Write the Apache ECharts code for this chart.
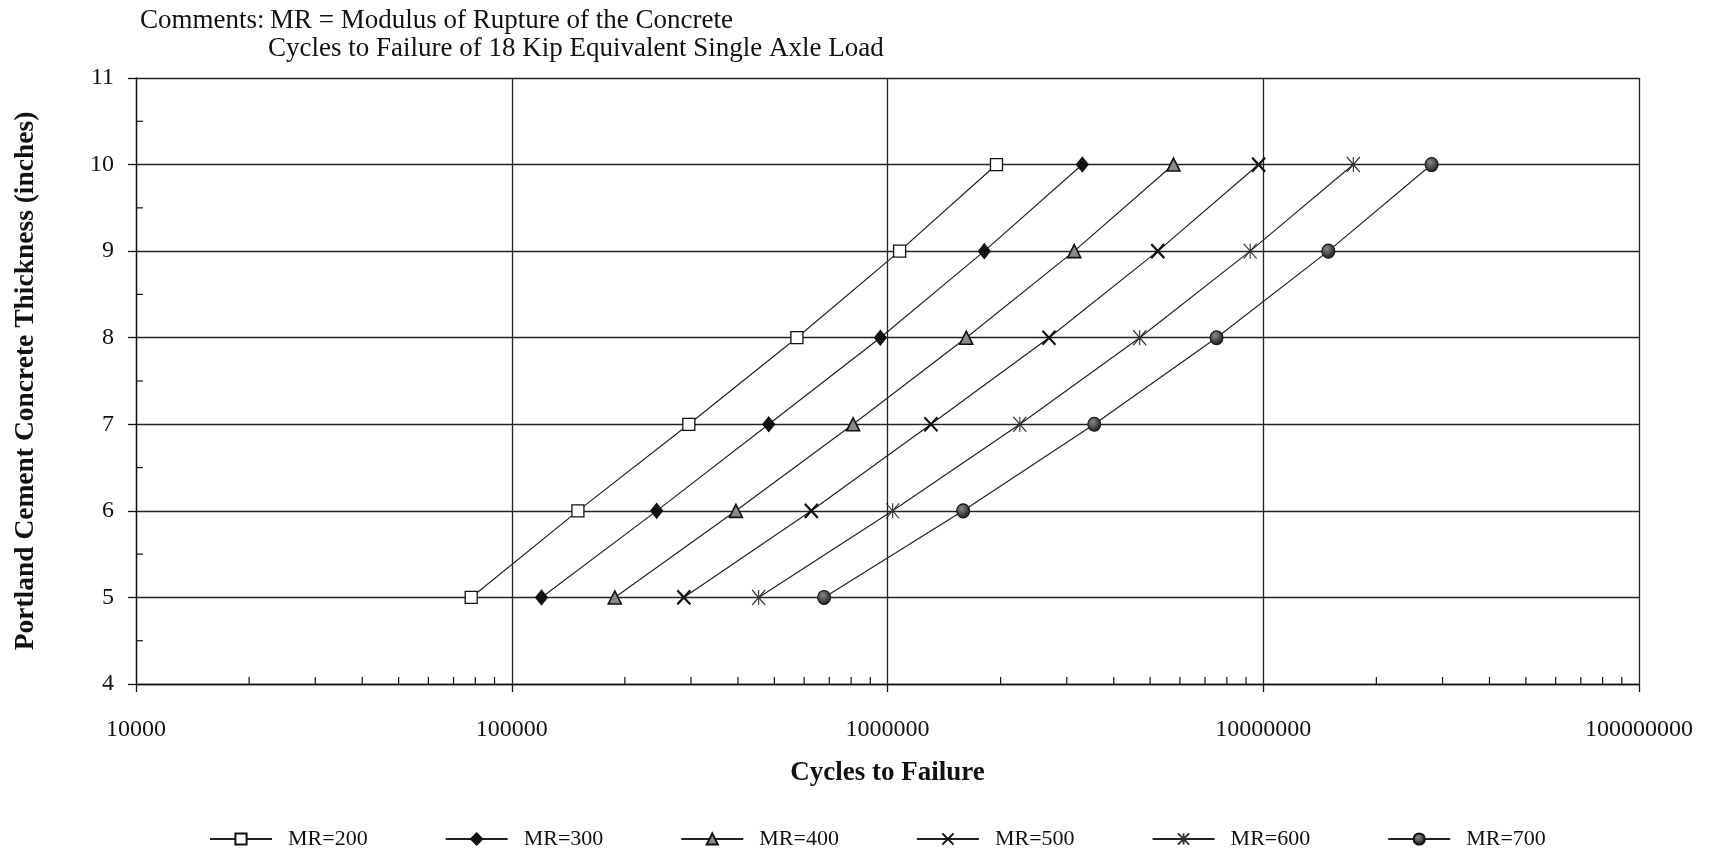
<!DOCTYPE html>
<html>
<head>
<meta charset="utf-8">
<script src="https://cdn.jsdelivr.net/npm/echarts@6/dist/echarts.min.js"></script>
<style>
html,body{margin:0;padding:0;background:#fff;}
#chart{width:1710px;height:862px;}
</style>
</head>
<body>
<div id="chart"></div>
<script>
// ---- Data ----
const thickness = [5, 6, 7, 8, 9, 10];
const seriesNames = ['MR=200', 'MR=300', 'MR=400', 'MR=500', 'MR=600', 'MR=700'];
const mr200 = [78000, 150000, 296000, 574000, 1077000, 1950000];
const mr300 = [120000, 243000, 483000, 957000, 1810000, 3300000];
const mr400 = [188000, 395000, 810000, 1620000, 3140000, 5770000];
const mr500 = [287000, 627000, 1305000, 2690000, 5240000, 9720000];
const mr600 = [454000, 1032000, 2250000, 4690000, 9230000, 17370000];
const mr700 = [678000, 1590000, 3550000, 7510000, 14900000, 28060000];
const xTickLabels = ['10000', '100000', '1000000', '10000000', '100000000'];
const yTickLabels = ['4', '5', '6', '7', '8', '9', '10', '11'];
const xDecades = [10000, 100000, 1000000, 10000000];
const xMinorMultipliers = [2, 3, 4, 5, 6, 7, 8, 9];
const yMinorTicks = [4.5, 5.5, 6.5, 7.5, 8.5, 9.5, 10.5];
const commentLabel = 'Comments:';
const commentLine1 = 'MR = Modulus of Rupture of the Concrete';
const commentLine2 = 'Cycles to Failure of 18 Kip Equivalent Single Axle Load';

const FONT = 'Liberation Serif';
const allSeriesValues = [mr200, mr300, mr400, mr500, mr600, mr700];

const xMinorTicks = [];
xDecades.forEach(d => xMinorMultipliers.forEach(m => xMinorTicks.push(d * m)));

const symbols = [
  {symbol: 'rect', size: [12, 12], item: {color: '#fff', borderColor: '#111', borderWidth: 1.3}},
  {symbol: 'diamond', size: [12, 15], item: {color: '#111', borderColor: '#111', borderWidth: 1}},
  {symbol: 'triangle', size: [13, 13], item: {color: '#8a8a8a', borderColor: '#111', borderWidth: 1.6}},
  {symbol: 'path://M0 0 L10 10 M10 0 L0 10', size: [13, 14], item: {color: 'rgba(0,0,0,0)', borderColor: '#111', borderWidth: 2.2}},
  {symbol: 'path://M0 0 L10 10 M10 0 L0 10 M5 0 L5 10', size: [13, 15], item: {color: 'rgba(0,0,0,0)', borderColor: '#333', borderWidth: 1.2}},
  {symbol: 'circle', size: [13, 14], item: {
    color: {type: 'radial', x: 0.4, y: 0.35, r: 0.65, colorStops: [{offset: 0, color: '#8a8a8a'}, {offset: 1, color: '#1a1a1a'}]},
    borderColor: '#111', borderWidth: 1}}
];

const lineSeries = seriesNames.map((name, i) => ({
  name: name,
  type: 'line',
  data: thickness.map((t, j) => [allSeriesValues[i][j], t]),
  symbol: symbols[i].symbol,
  symbolSize: symbols[i].size,
  itemStyle: symbols[i].item,
  lineStyle: {color: '#222', width: 1.2},
  z: 5,
  animation: false
}));

const tickStyle = {stroke: '#111', lineWidth: 1.2};
const minorX = {
  type: 'custom',
  name: 'xminor',
  silent: true,
  clip: false,
  data: xMinorTicks.map(v => [v, 4]),
  renderItem: (params, api) => {
    const p = api.coord([api.value(0), api.value(1)]);
    return {type: 'line', shape: {x1: p[0], y1: p[1], x2: p[0], y2: p[1] - 7}, style: tickStyle};
  },
  z: 3,
  animation: false
};
const minorY = {
  type: 'custom',
  name: 'yminor',
  silent: true,
  clip: false,
  data: yMinorTicks.map(v => [10000, v]),
  renderItem: (params, api) => {
    const p = api.coord([api.value(0), api.value(1)]);
    return {type: 'line', shape: {x1: p[0], y1: p[1], x2: p[0] + 7, y2: p[1]}, style: tickStyle};
  },
  z: 3,
  animation: false
};

const titleText = {fontFamily: FONT, fontSize: 27, fontWeight: 'normal', color: '#111'};
const chart = echarts.init(document.getElementById('chart'), null, {renderer: 'canvas'});
chart.setOption({
  backgroundColor: '#fff',
  animation: false,
  title: [
    {text: commentLabel, left: 140, top: 7, padding: 0, textStyle: titleText},
    {text: commentLine1, left: 270, top: 7, padding: 0, textStyle: titleText},
    {text: commentLine2, left: 268, top: 35, padding: 0, textStyle: titleText}
  ],
  grid: {left: 136, right: 71, top: 78, bottom: 178, containLabel: false},
  legend: {
    data: seriesNames,
    left: 209,
    top: 828,
    itemWidth: 62,
    itemHeight: 14,
    itemGap: 77,
    padding: 0,
    textStyle: {fontFamily: FONT, fontSize: 22, color: '#111', padding: [0, 0, 0, 11]}
  },
  xAxis: {
    type: 'log',
    logBase: 10,
    min: 10000,
    max: 100000000,
    name: 'Cycles to Failure',
    nameLocation: 'middle',
    nameGap: 76,
    nameTextStyle: {fontFamily: FONT, fontSize: 27, fontWeight: 'bold', color: '#111'},
    axisLine: {show: true, lineStyle: {color: '#111', width: 1.3}},
    axisTick: {show: true, inside: false, length: 8, lineStyle: {color: '#111', width: 1.3}},
    splitLine: {show: true, lineStyle: {color: '#222', width: 1.3}},
    axisLabel: {
      margin: 34,
      fontFamily: FONT, fontSize: 24, color: '#111',
      formatter: (v) => xTickLabels[Math.round(Math.log10(v)) - 4] || ''
    }
  },
  yAxis: {
    type: 'value',
    min: 4,
    max: 11,
    interval: 1,
    name: 'Portland Cement Concrete Thickness (inches)',
    nameLocation: 'middle',
    nameGap: 96,
    nameTextStyle: {fontFamily: FONT, fontSize: 27.5, fontWeight: 'bold', color: '#111'},
    axisLine: {show: true, lineStyle: {color: '#111', width: 1.3}},
    axisTick: {show: true, inside: false, length: 8, lineStyle: {color: '#111', width: 1.3}},
    splitLine: {show: true, lineStyle: {color: '#222', width: 1.3}},
    axisLabel: {
      margin: 22,
      fontFamily: FONT, fontSize: 24, color: '#111',
      formatter: (v) => yTickLabels[Math.round(v) - 4] || ''
    }
  },
  series: lineSeries.concat([minorX, minorY])
});
</script>
</body>
</html>
